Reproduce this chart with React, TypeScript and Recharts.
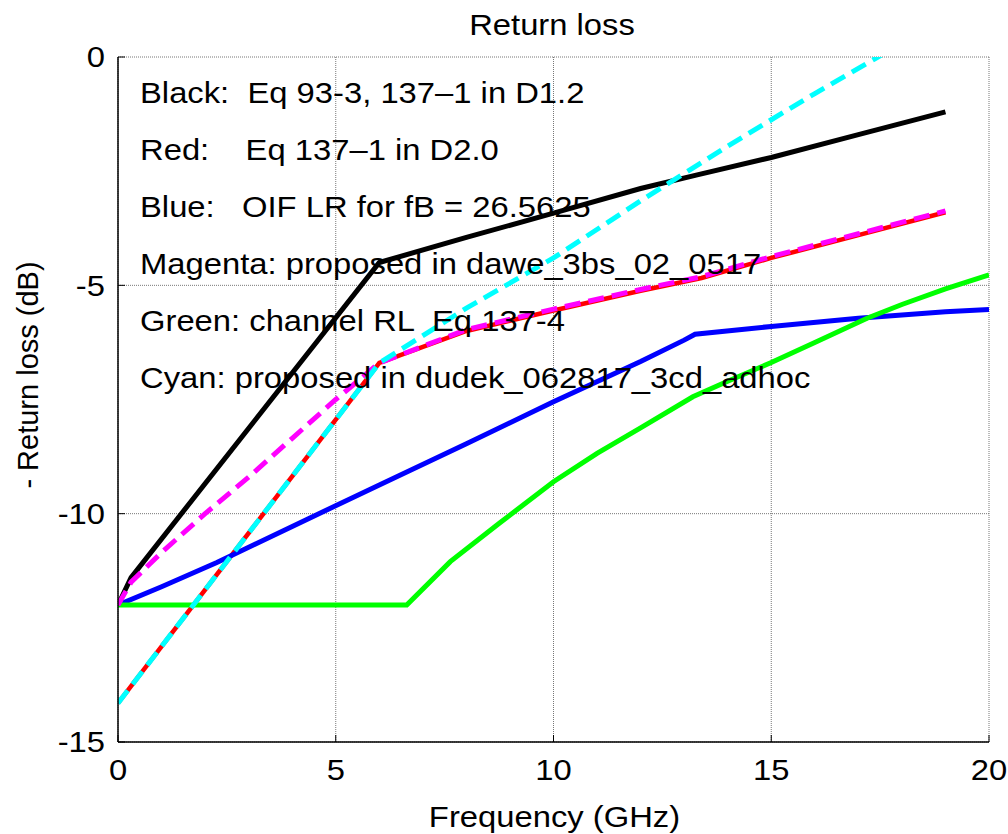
import React from 'react';
import { LineChart, Line, XAxis, YAxis, CartesianGrid, Label } from 'recharts';

const freqTicks = [0, 5, 10, 15, 20];
const rlTicks = [-15, -10, -5, 0];

// Eq 93-3, 137-1 in D1.2
const blackFreq = [0, 0.3, 6, 8, 10, 12, 13.3, 15, 17, 19];
const blackRL = [-12, -11.4, -4.5, -3.95, -3.42, -2.88, -2.58, -2.2, -1.7, -1.2];

// Eq 137-1 in D2.0
const redFreq = [0, 6, 8, 10, 12, 13.4, 15, 17, 19];
const redRL = [-14.15, -6.7, -6.0, -5.55, -5.12, -4.84, -4.4, -3.9, -3.4];

// OIF LR
const blueFreq = [0, 1, 2.27, 4, 6, 8, 10, 12, 13, 13.25, 15, 17, 19, 20];
const blueRL = [-12, -11.6, -11.07, -10.28, -9.37, -8.47, -7.55, -6.67, -6.2, -6.07, -5.9, -5.72, -5.58, -5.53];

// channel RL
const greenFreq = [0, 6.63, 7.63, 8.77, 10, 11, 12, 13.2, 14, 15, 16, 17.2, 18, 19, 20];
const greenRL = [-12, -12, -11.05, -10.2, -9.3, -8.68, -8.12, -7.44, -7.1, -6.69, -6.25, -5.72, -5.42, -5.08, -4.77];

// dawe proposal
const magentaFreq = [0, 0.3, 1, 2, 3, 4, 5, 6, 8, 10, 12, 13.4, 15, 17, 19];
const magentaRL = [-12, -11.5, -10.85, -10.0, -9.2, -8.35, -7.5, -6.7, -5.97, -5.52, -5.09, -4.81, -4.37, -3.87, -3.37];

// dudek proposal
const cyanFreq = [0, 6, 8, 10, 12, 14, 16, 17.45, 19];
const cyanRL = [-14.15, -6.7, -5.5, -4.4, -3.15, -1.95, -0.8, 0, 0.9];

const notes = [
  'Black:  Eq 93-3, 137\u20131 in D1.2',
  'Red:    Eq 137\u20131 in D2.0',
  'Blue:   OIF LR for fB = 26.5625',
  'Magenta: proposed in dawe_3bs_02_0517',
  'Green: channel RL  Eq 137-4',
  'Cyan: proposed in dudek_062817_3cd_adhoc',
];

const toPoints = (xs: number[], ys: number[]) => xs.map((f, i) => ({ f, rl: ys[i] }));

const series = [
  { key: 'black', data: toPoints(blackFreq, blackRL), color: '#000000', width: 5, dash: undefined },
  { key: 'red', data: toPoints(redFreq, redRL), color: '#ff0000', width: 4.5, dash: undefined },
  { key: 'blue', data: toPoints(blueFreq, blueRL), color: '#0000ff', width: 5, dash: undefined },
  { key: 'green', data: toPoints(greenFreq, greenRL), color: '#00ff00', width: 5, dash: undefined },
  { key: 'magenta', data: toPoints(magentaFreq, magentaRL), color: '#ff00ff', width: 5, dash: '16 8' },
  { key: 'cyan', data: toPoints(cyanFreq, cyanRL), color: '#00ffff', width: 5, dash: '16 8' },
];

const FONT = '"Liberation Sans", Arial, sans-serif';
const FS = 29;
const SX = 1.13; // the source picture is a bit wider than tall

// horizontal text, stretched like the original
const WideText = ({ x, y, anchor = 'start', dy, children }: any) => (
  <text
    transform={`translate(${x},${y}) scale(${SX},1)`}
    x={0}
    y={0}
    dy={dy}
    textAnchor={anchor}
    fontSize={FS}
    fontFamily={FONT}
    fill="#000"
    style={{ whiteSpace: 'pre' }}
  >
    {children}
  </text>
);

const BottomTick = (props: any) => {
  const { x, y, payload } = props;
  return (
    <g>
      <line x1={x} x2={x} y1={y} y2={y - 7} stroke="#000" />
      <WideText x={x} y={y + 38} anchor="middle">{payload.value}</WideText>
    </g>
  );
};

const TopTick = (props: any) => {
  const { x, y } = props;
  return <line x1={x} x2={x} y1={y} y2={y + 7} stroke="#000" />;
};

const LeftTick = (props: any) => {
  const { x, y, payload } = props;
  return (
    <g>
      <line x1={x} x2={x + 7} y1={y} y2={y} stroke="#000" />
      <WideText x={x - 13} y={y} dy="0.36em" anchor="end">{payload.value}</WideText>
    </g>
  );
};

const RightTick = (props: any) => {
  const { x, y } = props;
  return <line x1={x} x2={x - 7} y1={y} y2={y} stroke="#000" />;
};

export default function App() {
  return (
    <div style={{ position: 'relative', width: 1008, height: 834, background: '#fff', fontFamily: FONT }}>
      <style>{'body{margin:0;}'}</style>
      <LineChart width={1008} height={834} margin={{ top: 57, right: 19, bottom: 0, left: 0 }}>
        <CartesianGrid stroke="#777" strokeDasharray="1 1" strokeWidth={1} />
        <XAxis
          dataKey="f"
          type="number"
          domain={[0, 20]}
          ticks={freqTicks}
          interval={0}
          allowDataOverflow
          height={92}
          tickSize={0}
          tickMargin={0}
          tickLine={false}
          axisLine={{ stroke: '#000', strokeWidth: 1.5 }}
          tick={<BottomTick />}
        >
          <Label
            content={({ viewBox }: any) => (
              <WideText x={viewBox.x + viewBox.width / 2 + 1} y={827} anchor="middle">
                Frequency (GHz)
              </WideText>
            )}
          />
        </XAxis>
        <XAxis
          xAxisId="top"
          orientation="top"
          type="number"
          domain={[0, 20]}
          ticks={freqTicks}
          interval={0}
          height={0}
          tickSize={0}
          tickMargin={0}
          tickLine={false}
          axisLine={false}
          tick={<TopTick />}
        />
        <YAxis
          dataKey="rl"
          type="number"
          domain={[-15, 0]}
          ticks={rlTicks}
          interval={0}
          allowDataOverflow
          width={118}
          tickSize={0}
          tickMargin={0}
          tickLine={false}
          axisLine={{ stroke: '#000', strokeWidth: 1.5 }}
          tick={<LeftTick />}
        >
          <Label
            content={() => (
              <text
                transform="translate(28,375) rotate(-90)"
                x={0}
                y={0}
                textAnchor="middle"
                dy="0.36em"
                fontSize={FS}
                fontFamily={FONT}
                fill="#000"
              >
                - Return loss (dB)
              </text>
            )}
          />
        </YAxis>
        <YAxis
          yAxisId="right"
          orientation="right"
          type="number"
          domain={[-15, 0]}
          ticks={rlTicks}
          interval={0}
          width={0}
          tickSize={0}
          tickMargin={0}
          tickLine={false}
          axisLine={false}
          tick={<RightTick />}
        />
        {series.map((s) => (
          <Line
            key={s.key}
            data={s.data}
            dataKey="rl"
            type="linear"
            stroke={s.color}
            strokeWidth={s.width}
            strokeDasharray={s.dash}
            dot={false}
            activeDot={false}
            isAnimationActive={false}
          />
        ))}
      </LineChart>
      <svg
        width={1008}
        height={834}
        style={{ position: 'absolute', left: 0, top: 0, pointerEvents: 'none' }}
      >
        <WideText x={552} y={35} anchor="middle">Return loss</WideText>
        {notes.map((n, i) => (
          <WideText key={n} x={140} y={103 + i * 57}>{n}</WideText>
        ))}
      </svg>
    </div>
  );
}
